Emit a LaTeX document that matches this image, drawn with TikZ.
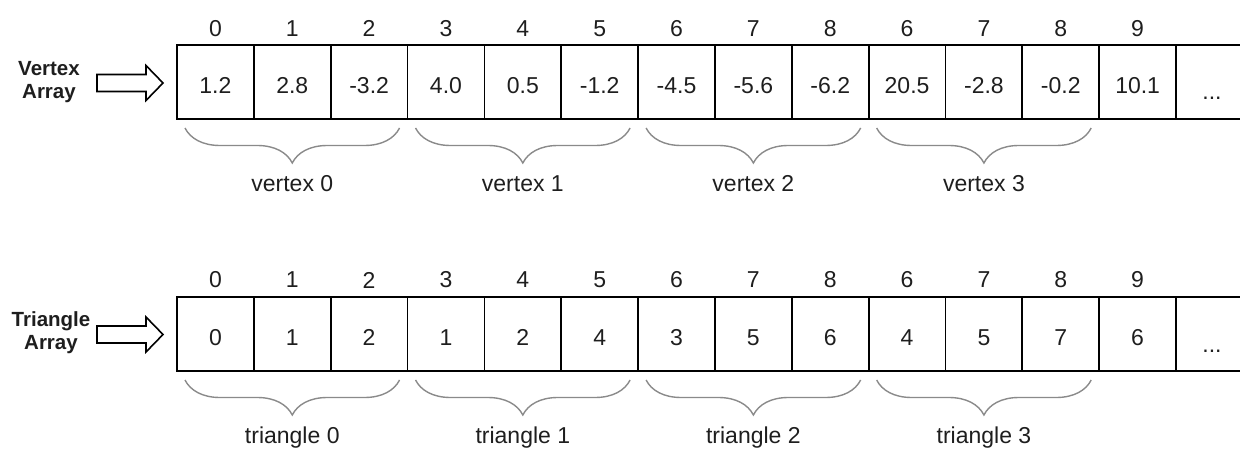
\documentclass[tikz,border=0pt]{standalone}
\usepackage{fontspec}
\setmainfont{Liberation Sans}
\usetikzlibrary{decorations.pathreplacing,calc}
\definecolor{txt}{HTML}{1E1E1E}
\definecolor{bracegray}{HTML}{8A8A8A}
\begin{document}
\begin{tikzpicture}[x=1pt,y=-1pt,
  cell/.style={draw=black, line width=1.8pt, minimum width=76.85pt, minimum height=74pt,
    inner sep=0pt, outer sep=0pt, anchor=north west, text=txt,
    font=\fontsize{23}{27}\selectfont, text height=22.5pt, text depth=0pt},
  idx/.style={text=txt, inner sep=0pt, font=\fontsize{23}{27}\selectfont},
  brc/.style={draw=bracegray, line width=1.4pt, decorate,
    decoration={brace, mirror, amplitude=35pt}},
  blab/.style={text=txt, inner sep=0pt, anchor=base, font=\fontsize{23}{27}\selectfont},
  arrlab/.style={text=txt, inner sep=0pt, align=center,
    font=\fontsize{20.5}{23}\selectfont\bfseries},
  openline/.style={draw=black, line width=1.8pt},
  blockarrow/.style={draw=black, line width=1.6pt, fill=white, line join=miter}
]
\useasboundingbox (0,0) rectangle (1250,457);

% ---------- Vertex array ----------
\node[arrlab] (vlab) at (49,82) {Vertex\\Array};
\draw[blockarrow] (97,74.5) -- (146,74.5) -- (146,65.5) -- (163,83) -- (146,100.5)
  -- (146,91.5) -- (97,91.5) -- cycle;
\foreach \v [count=\i from 0] in {1.2,2.8,-3.2,4.0,0.5,-1.2,-4.5,-5.6,-6.2,20.5,-2.8,-0.2,10.1}
  \node[cell] (v\i) at ({177+76.85*\i},45) {\v};
\foreach \n [count=\i from 0] in {0,1,2,3,4,5,6,7,8,6,7,8,9}
  \node[idx] (vi\i) at ($(v\i.north)+(0,-16.5)$) {\n};
\coordinate (vendt) at (1240,45);
\coordinate (vendb) at (1240,119);
\draw[openline] (v12.north east) -- (vendt);
\draw[openline] (v12.south east) -- (vendb);
\node[blab] (vdots) at (1212,100) {...};
\foreach \k/\a/\b in {0/0/2,1/3/5,2/6/8,3/9/11}{
  \coordinate (vbs\k) at ($(v\a.south west)+(8,9)$);
  \coordinate (vbe\k) at ($(v\b.south east)+(-8,9)$);
  \draw[brc] (vbs\k) -- (vbe\k);
  \node[blab] (vb\k) at ($($(vbs\k)!0.5!(vbe\k)$)+(0,64)$) {vertex \k};
}

% ---------- Triangle array ----------
\node[arrlab] (tlab) at (51,333) {Triangle\\Array};
\draw[blockarrow] (97,326) -- (146,326) -- (146,317) -- (163,334.5) -- (146,352)
  -- (146,343) -- (97,343) -- cycle;
\foreach \v [count=\i from 0] in {0,1,2,1,2,4,3,5,6,4,5,7,6}
  \node[cell] (t\i) at ({177+76.85*\i},297) {\v};
\foreach \n [count=\i from 0] in {0,1,2,3,4,5,6,7,8,6,7,8,9}
  \node[idx] (ti\i) at ($(t\i.north)+(0,-17)$) {\n};
\coordinate (tendt) at (1240,297);
\coordinate (tendb) at (1240,371);
\draw[openline] (t12.north east) -- (tendt);
\draw[openline] (t12.south east) -- (tendb);
\node[blab] (tdots) at (1212,352) {...};
\foreach \k/\a/\b in {0/0/2,1/3/5,2/6/8,3/9/11}{
  \coordinate (tbs\k) at ($(t\a.south west)+(8,9)$);
  \coordinate (tbe\k) at ($(t\b.south east)+(-8,9)$);
  \draw[brc] (tbs\k) -- (tbe\k);
  \node[blab] (tb\k) at ($($(tbs\k)!0.5!(tbe\k)$)+(0,63)$) {triangle \k};
}
\end{tikzpicture}
\end{document}
